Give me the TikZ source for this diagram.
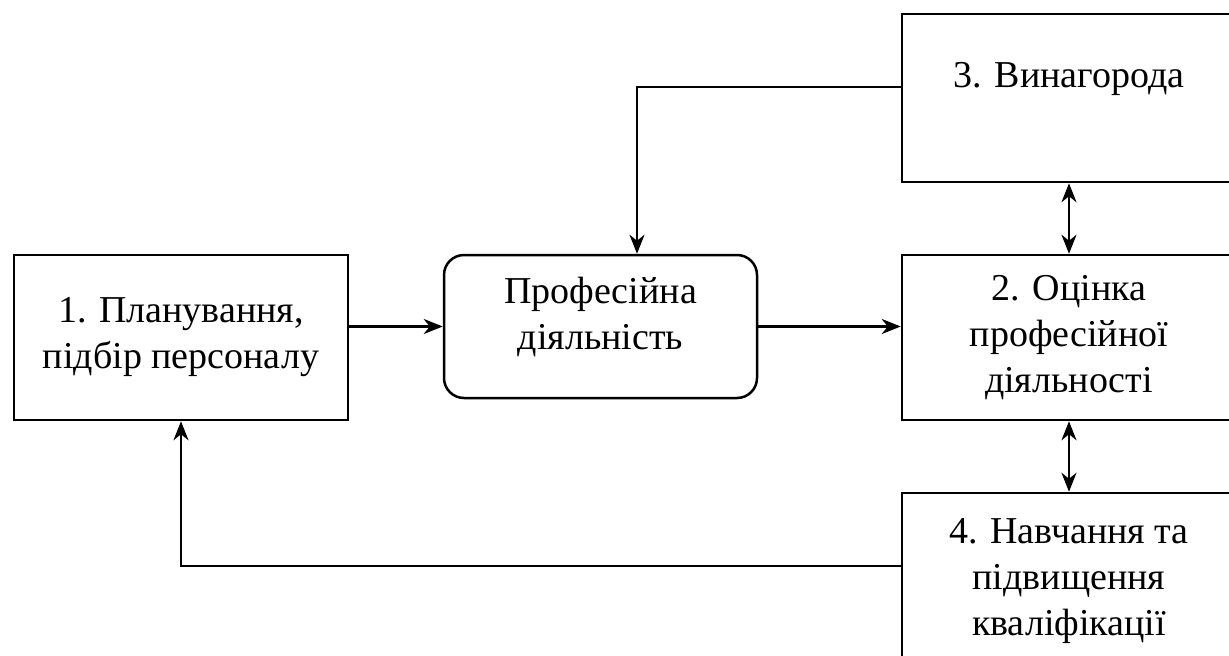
\documentclass[tikz,border=0pt]{standalone}
\usepackage{fontspec}
\setmainfont{Liberation Serif}
\usepackage{tikz}
\usetikzlibrary{arrows.meta}
\tikzset{
	blok/.style={draw, line width=2.5pt, align=center, inner sep=0pt, font=\fontsize{38}{46}\selectfont},
	strilka/.style={line width=2.5pt, -{Stealth[length=19pt, width=15pt, inset=6pt]}},
	dvistrilka/.style={line width=2.5pt, {Stealth[length=19pt, width=15pt, inset=6pt]}-{Stealth[length=19pt, width=15pt, inset=6pt]}}
}

\begin{document}
\begin{tikzpicture}[x=1pt, y=-1pt]

	\useasboundingbox (0,0) rectangle (1229,656);

	% boxes
	\node[blok, minimum width=334pt, minimum height=165pt] (plan) at (181,337.5) {1. Планування,\\підбір персоналу};
	\node[blok, rounded corners=20pt, minimum width=313pt, minimum height=143pt] (prof) at (600.5,326.5) {Професійна\\діяльність\\[-19pt]\mbox{}};
	\node[blok, minimum width=334pt, minimum height=165pt] (ocin) at (1069,337.5) {2. Оцінка\\професійної\\діяльності};
	\node[blok, minimum width=334pt, minimum height=168pt] (vyn) at (1069,98) {3. Винагорода\\ \mbox{}};
	\node[blok, minimum width=334pt, minimum height=177pt] (navch) at (1069,581.5) {4. Навчання та\\підвищення\\кваліфікації};

	% turning points
	\coordinate (vgori) at (637,87);
	\coordinate (vnyzu) at (181,566);

	% connectors
	\draw[strilka] (plan.east |- prof.west) -- (prof.west);
	\draw[strilka] (prof.east) -- (ocin.west |- prof.east);
	\draw[strilka] (vyn.west |- vgori) -- (vgori) -- (prof.north -| vgori);
	\draw[dvistrilka] (vyn.south) -- (ocin.north);
	\draw[dvistrilka] (ocin.south) -- (navch.north);
	\draw[strilka] (navch.west |- vnyzu) -- (vnyzu) -- (plan.south);

\end{tikzpicture}
\end{document}
